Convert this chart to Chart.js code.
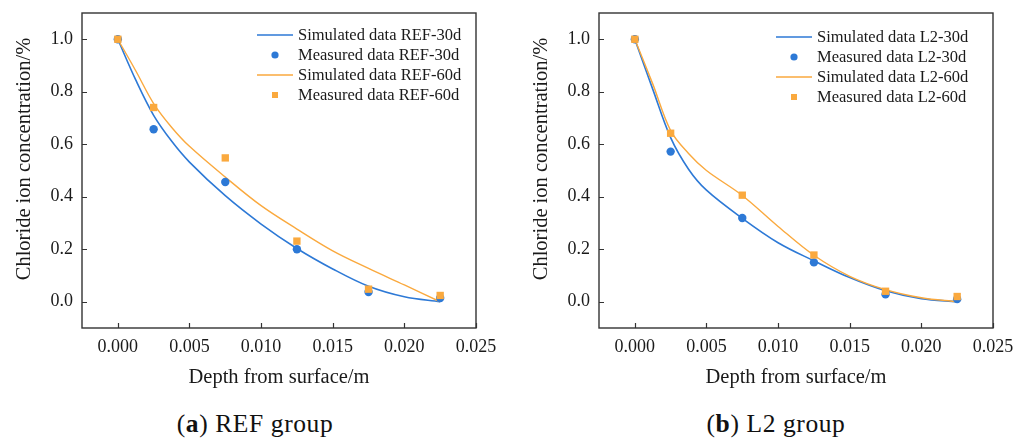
<!DOCTYPE html>
<html><head><meta charset="utf-8">
<script src="https://cdn.jsdelivr.net/npm/chart.js@4.4.1/dist/chart.umd.min.js"></script>
<style>
html,body{margin:0;padding:0;background:#fff;}
body{width:1029px;height:446px;position:relative;overflow:hidden;font-family:"Liberation Serif",serif;}
.box{position:absolute;top:0;width:500px;height:395px;}
.cap{position:absolute;top:409px;width:300px;text-align:center;font-size:25.5px;line-height:30px;color:#111;letter-spacing:0.6px;font-family:"Liberation Serif",serif;}
</style></head><body>
<div class="box" style="left:0"><canvas id="c1"></canvas></div>
<div class="box" style="left:517px"><canvas id="c2"></canvas></div>
<div class="cap" style="left:105px">(<b>a</b>) REF group</div>
<div class="cap" style="left:626px">(<b>b</b>) L2 group</div>
<script>
// ---- data ----
const measuredDepth = [0, 0.0025, 0.0075, 0.0125, 0.0175, 0.0225];
const simDepth = [0, 0.00125, 0.0025, 0.00375, 0.005, 0.0075, 0.01, 0.0125, 0.015, 0.0175, 0.02, 0.0225];

const refMeasured30 = [1.0, 0.657, 0.456, 0.200, 0.037, 0.014];
const refMeasured60 = [1.0, 0.740, 0.548, 0.231, 0.048, 0.024];
const refSim30 = [1.0, 0.845, 0.71, 0.612, 0.532, 0.404, 0.296, 0.203, 0.125, 0.059, 0.019, 0.0];
const refSim60 = [1.0, 0.88, 0.755, 0.665, 0.592, 0.475, 0.366, 0.277, 0.194, 0.127, 0.064, 0.0];

const l2Measured30 = [1.0, 0.572, 0.319, 0.150, 0.028, 0.010];
const l2Measured60 = [1.0, 0.642, 0.406, 0.178, 0.040, 0.020];
const l2Sim30 = [1.0, 0.81, 0.625, 0.505, 0.425, 0.318, 0.225, 0.156, 0.092, 0.042, 0.012, 0.0];
const l2Sim60 = [1.0, 0.83, 0.652, 0.565, 0.5, 0.405, 0.287, 0.177, 0.097, 0.046, 0.015, 0.0];

const xTicks = [0, 0.005, 0.010, 0.015, 0.020, 0.025];
const yTicks = [0.0, 0.2, 0.4, 0.6, 0.8, 1.0];

const refLabels = ['Simulated data REF-30d', 'Measured data REF-30d', 'Simulated data REF-60d', 'Measured data REF-60d'];
const l2Labels = ['Simulated data L2-30d', 'Measured data L2-30d', 'Simulated data L2-60d', 'Measured data L2-60d'];
const yTitle = 'Chloride ion concentration/%';
const xTitle = 'Depth from surface/m';

// ---- styles ----
const BLUE = '#2D79D6';
const ORANGE = '#FAA93E';
const FONT = '"Liberation Serif", "Times New Roman", serif';
const TEXT = '#1a1a1a';
const FRAME = '#333333';

const toXY = (xs, ys) => xs.map((x, i) => ({x, y: ys[i]}));

const framePlugin = {
  id: 'frameLegend',
  afterDraw(chart, args, opts) {
    const ctx = chart.ctx;
    const a = chart.chartArea;
    const xs = chart.scales.x, ys = chart.scales.y;
    ctx.save();
    ctx.strokeStyle = FRAME;
    ctx.lineWidth = 1.4;
    ctx.strokeRect(a.left, a.top, a.right - a.left, a.bottom - a.top);
    ctx.lineWidth = 1.2;
    ctx.beginPath();
    xs.ticks.forEach(t => {
      const px = Math.round(xs.getPixelForValue(t.value)) + 0.5;
      ctx.moveTo(px, a.bottom); ctx.lineTo(px, a.bottom - 5);
    });
    ys.ticks.forEach(t => {
      const py = Math.round(ys.getPixelForValue(t.value)) + 0.5;
      ctx.moveTo(a.left, py); ctx.lineTo(a.left + 5, py);
    });
    ctx.stroke();
    ctx.fillStyle = TEXT;
    ctx.font = '20.5px ' + FONT;
    ctx.textAlign = 'center';
    ctx.textBaseline = 'middle';
    ctx.translate(25, 159);
    ctx.rotate(-Math.PI / 2);
    ctx.fillText(opts.yTitle, 0, 0);
    ctx.restore();

    ctx.save();
    ctx.font = '16.5px ' + FONT;
    ctx.textAlign = 'left';
    ctx.textBaseline = 'middle';
    chart.data.datasets.forEach((ds, i) => {
      const y = a.top + opts.legendY + i * 20;
      const lx = a.left + opts.legendX;
      if (ds.showLine) {
        ctx.strokeStyle = ds.borderColor;
        ctx.lineWidth = ds.borderWidth;
        ctx.beginPath();
        ctx.moveTo(lx, y); ctx.lineTo(lx + 36, y);
        ctx.stroke();
      } else {
        ctx.fillStyle = ds.backgroundColor;
        if (ds.pointStyle === 'rect') {
          ctx.fillRect(lx + 18 - 3, y - 3, 6, 6);
        } else {
          ctx.beginPath();
          ctx.arc(lx + 18, y, 3.6, 0, Math.PI * 2);
          ctx.fill();
        }
      }
      ctx.fillStyle = TEXT;
      ctx.fillText(ds.label, lx + 41, y + 1);
    });
    ctx.restore();
  }
};

function build(id, labels, sim30, meas30, sim60, meas60, legendX, legendY) {
  return new Chart(document.getElementById(id), {
    type: 'scatter',
    data: {
      datasets: [
        {label: labels[0], data: toXY(simDepth, sim30), showLine: true, borderColor: BLUE, backgroundColor: BLUE,
          borderWidth: 1.6, pointRadius: 0, tension: 0.35, order: 3},
        {label: labels[1], data: toXY(measuredDepth, meas30), showLine: false, pointStyle: 'circle', pointRadius: 4.2,
          backgroundColor: BLUE, borderColor: BLUE, borderWidth: 0, order: 1},
        {label: labels[2], data: toXY(simDepth, sim60), showLine: true, borderColor: ORANGE, backgroundColor: ORANGE,
          borderWidth: 1.4, pointRadius: 0, tension: 0.35, order: 2},
        {label: labels[3], data: toXY(measuredDepth, meas60), showLine: false, pointStyle: 'rect', pointRadius: 5.2,
          backgroundColor: ORANGE, borderColor: ORANGE, borderWidth: 0, order: 0}
      ]
    },
    options: {
      responsive: true,
      maintainAspectRatio: false,
      animation: false,
      devicePixelRatio: 1,
      layout: {padding: {left: 0, top: 13, right: 24, bottom: 0}},
      plugins: {
        legend: {display: false},
        tooltip: {enabled: false},
        frameLegend: {yTitle: yTitle, legendX: legendX, legendY: legendY}
      },
      scales: {
        x: {
          type: 'linear', min: -0.0025, max: 0.025,
          afterBuildTicks: s => { s.ticks = xTicks.map(v => ({value: v})); },
          afterFit: s => { s.height = 67; s.paddingLeft = 0; s.paddingRight = 0; },
          grid: {display: false, drawTicks: false},
          border: {display: false},
          ticks: {callback: v => Number(v).toFixed(3), font: {family: FONT, size: 18}, color: TEXT, padding: 8,
            maxRotation: 0, autoSkip: false},
          title: {display: true, text: xTitle, font: {family: FONT, size: 20.5}, color: TEXT, padding: {top: 0, bottom: 5}}
        },
        y: {
          type: 'linear', min: -0.1, max: 1.1,
          afterBuildTicks: s => { s.ticks = yTicks.map(v => ({value: v})); },
          afterFit: s => { s.width = 82; s.paddingTop = 0; s.paddingBottom = 0; },
          grid: {display: false, drawTicks: false},
          border: {display: false},
          ticks: {callback: v => Number(v).toFixed(1), font: {family: FONT, size: 18}, color: TEXT, padding: 9, autoSkip: false}
        }
      }
    },
    plugins: [framePlugin]
  });
}

build('c1', refLabels, refSim30, refMeasured30, refSim60, refMeasured60, 175, 22);
build('c2', l2Labels, l2Sim30, l2Measured30, l2Sim60, l2Measured60, 177, 24);
</script>
</body></html>
